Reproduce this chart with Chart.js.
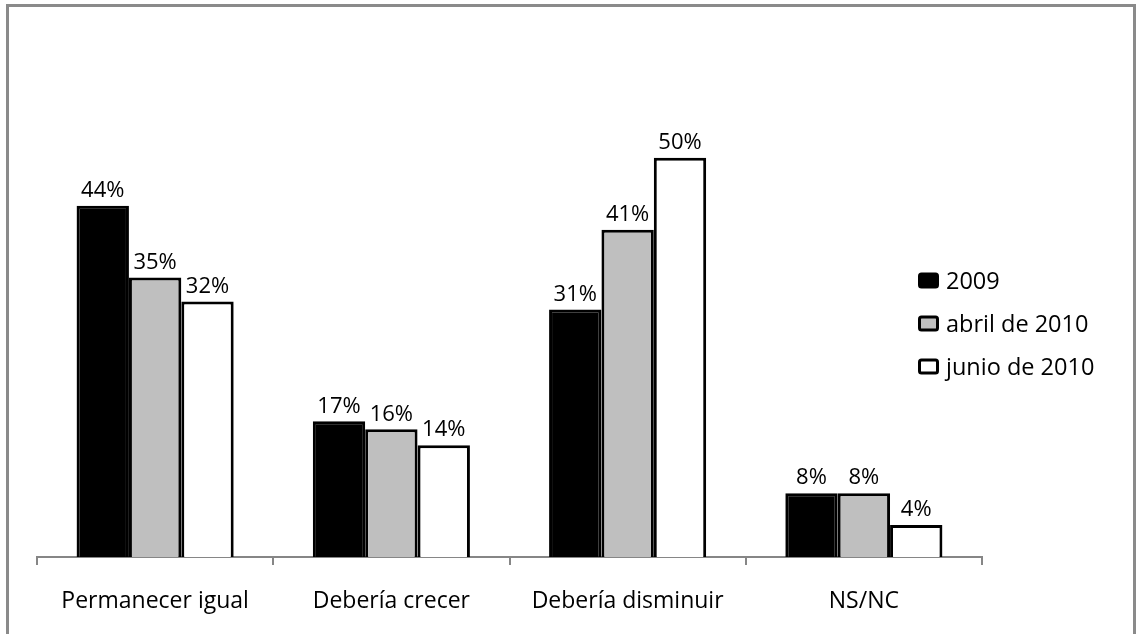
<!DOCTYPE html>
<html>
<head>
<meta charset="utf-8">
<script src="https://cdn.jsdelivr.net/npm/chart.js@4/dist/chart.umd.min.js"></script>
<style>
  html, body { margin: 0; padding: 0; background: #fff; overflow: hidden; }
  #wrap { position: relative; width: 1136px; height: 634px; }
  #frame { position: absolute; left: 6px; top: 4px; width: 1124px; height: 700px;
           border: 3px solid #8a8a8a; border-bottom: none; pointer-events: none; }
</style>
</head>
<body>
<div id="wrap">
  <canvas id="myChart" width="1136" height="634"></canvas>
  <div id="frame"></div>
</div>
<script>
const categories = ['Permanecer igual', 'Debería crecer', 'Debería disminuir', 'NS/NC'];
const seriesNames = ['2009', 'abril de 2010', 'junio de 2010'];
const values2009 = [44, 17, 31, 8];
const valuesAbril2010 = [35, 16, 41, 8];
const valuesJunio2010 = [32, 14, 50, 4];
const fills = ['#000000', '#bfbfbf', '#ffffff'];

const FONT = '"Open Sans", "DejaVu Sans", sans-serif';

// value labels above each bar
const barLabels = {
  id: 'barLabels',
  afterDatasetsDraw(chart) {
    const ctx = chart.ctx;
    ctx.save();
    ctx.fillStyle = '#000';
    ctx.font = '22px ' + FONT;
    ctx.textAlign = 'center';
    ctx.textBaseline = 'bottom';
    chart.data.datasets.forEach((ds, i) => {
      chart.getDatasetMeta(i).data.forEach((bar, j) => {
        ctx.fillText(ds.data[j] + '%', bar.x, bar.y - 4);
      });
    });
    ctx.restore();
  }
};

// legend on the right, small rounded squares
const sideLegend = {
  id: 'sideLegend',
  afterDraw(chart) {
    const ctx = chart.ctx;
    const x0 = 918, y0 = 281, step = 43;
    ctx.save();
    ctx.font = '23.5px ' + FONT;
    ctx.textBaseline = 'middle';
    chart.data.datasets.forEach((ds, i) => {
      const y = y0 + i * step;
      ctx.beginPath();
      ctx.roundRect(x0 + 1.5, y - 7, 18, 13, 2);
      ctx.fillStyle = ds.backgroundColor;
      ctx.fill();
      ctx.lineWidth = 3;
      ctx.strokeStyle = '#000';
      ctx.stroke();
      ctx.fillStyle = '#000';
      ctx.fillText(ds.label, x0 + 28, y + 1);
    });
    ctx.restore();
  }
};

const data = {
  labels: categories,
  datasets: [values2009, valuesAbril2010, valuesJunio2010].map((vals, i) => ({
    label: seriesNames[i],
    data: vals,
    backgroundColor: fills[i],
    borderColor: '#000',
    borderWidth: 3,
    borderSkipped: 'start',
    categoryPercentage: 0.665,
    barPercentage: 1
  }))
};

new Chart(document.getElementById('myChart'), {
  type: 'bar',
  data: data,
  options: {
    responsive: false,
    animation: false,
    layout: { padding: { left: 37, right: 154, top: 78, bottom: 0 } },
    plugins: { legend: { display: false }, tooltip: { enabled: false } },
    scales: {
      y: { display: false, min: 0, max: 60 },
      x: {
        afterFit(scale) { scale.height = 77; },
        border: { display: true, color: '#868686', width: 2 },
        grid: { drawOnChartArea: false, drawTicks: true, tickLength: 8, color: '#868686', lineWidth: 2, offset: true },
        ticks: { color: '#000', font: { family: FONT, size: 23 }, padding: 23, maxRotation: 0 }
      }
    }
  },
  plugins: [barLabels, sideLegend]
});
</script>
</body>
</html>
